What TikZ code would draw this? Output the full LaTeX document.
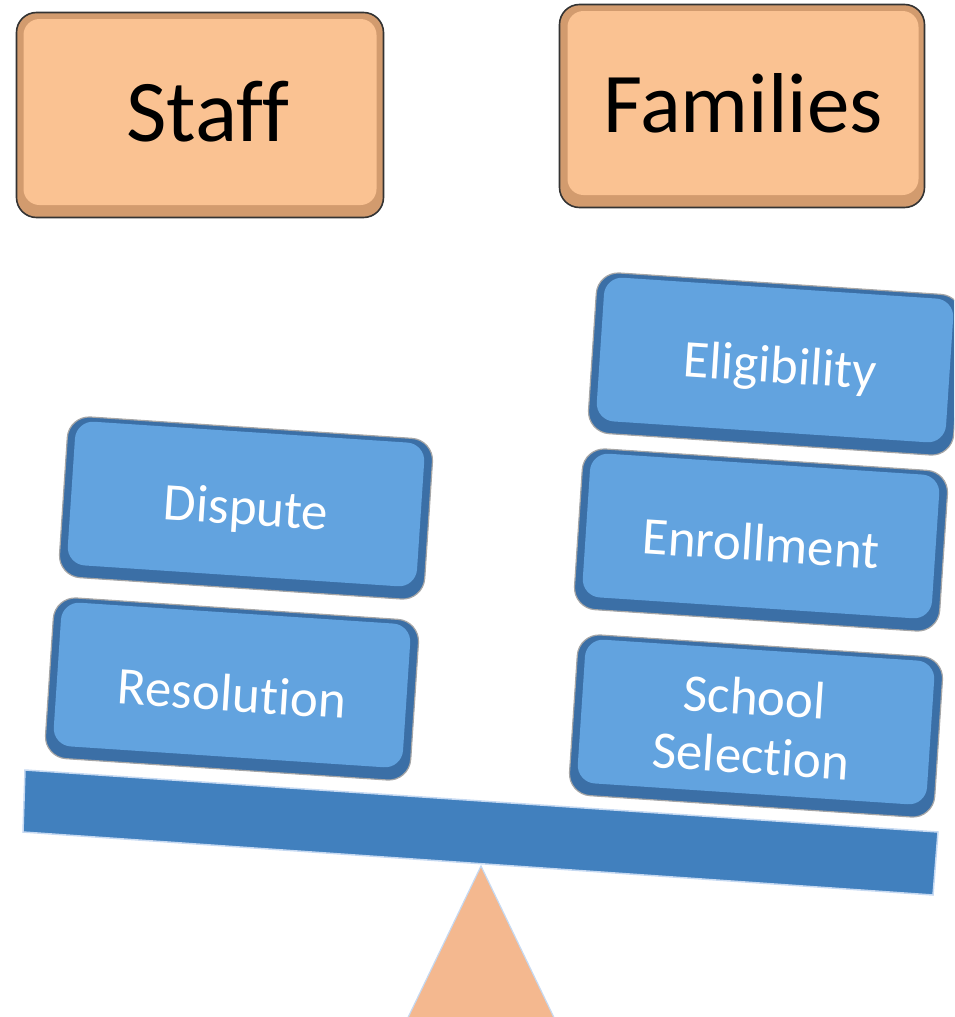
\documentclass[tikz,border=0pt]{standalone}
\usepackage{fontspec}
\setmainfont[Ligatures=NoCommon]{Carlito}
\definecolor{peach}{HTML}{FAC292}
\definecolor{peachedge}{HTML}{D29B6E}
\definecolor{bluemid}{HTML}{62A3DF}
\definecolor{bluedark}{HTML}{3B6FA6}
\definecolor{beamblue}{HTML}{4180BE}
\definecolor{paleedge}{HTML}{C6D9F1}
\definecolor{tripeach}{HTML}{F4B88F}
\tikzset{
  peachbase/.style={rounded corners=20pt, minimum width=367pt, minimum height=205pt,
    fill=peachedge, draw=black!80, line width=1.6pt, inner sep=0pt},
  peachtop/.style={rounded corners=16pt, minimum width=353pt, minimum height=186pt,
    fill=peach, inner sep=0pt, font=\fontsize{88}{96}\selectfont, text=black},
  bluebase/.style={rounded corners=22pt, minimum width=366pt, minimum height=161pt,
    fill=bluedark, draw=black!35, line width=1.2pt, rotate=-3.8, inner sep=0pt},
  bluetop/.style={rounded corners=18pt, minimum width=350pt, minimum height=144pt,
    fill=bluemid, rotate=-3.8, inner sep=0pt},
  bluetext/.style={rotate=-3.8, inner sep=0pt, text=white, align=center,
    font=\fontsize{53}{60}\selectfont},
}
\begin{document}
\begin{tikzpicture}[x=1pt,y=-1pt]
\useasboundingbox (0,0) rectangle (954,1017);
\clip (0,0) rectangle (954,1017);
% peach header boxes
\node[peachbase] (staffb) at (200,115) {};
\node[peachtop] (staff) at (200,112) {\hspace*{16pt}Staff};
\node[peachbase, minimum width=365pt, minimum height=203pt] (famb) at (742,106) {};
\node[peachtop, minimum width=351pt, minimum height=184pt, font=\fontsize{85}{92}\selectfont] (families) at (743,103) {Families};
% fulcrum
\fill[tripeach, draw=paleedge, line width=1.2pt] (481,866) -- (560,1030) -- (402,1030) -- cycle;
% beam
\fill[beamblue, draw=paleedge, line width=1.5pt] (25,770) -- (938,832) -- (933,895) -- (23,832) -- cycle;
% blue blocks
\node[bluebase] (disb) at (246,508) {};
\node[bluetop] (disf) at (246,504) {};
\node[bluetext] (dispute) at (246,511) {Dispute};
\node[bluebase] (resb) at (232,689) {};
\node[bluetop] (resf) at (232,685) {};
\node[bluetext] (resolution) at (232,693) {Resolution};
\node[bluebase] (elib) at (775,364) {};
\node[bluetop] (elif) at (775,360) {};
\node[bluetext] (eligibility) at (780,369) {Eligibility};
\node[bluebase] (enrb) at (761,540) {};
\node[bluetop] (enrf) at (761,536) {};
\node[bluetext] (enrollment) at (761,543) {Enrollment};
\node[bluebase] (schb) at (756,726) {};
\node[bluetop] (schf) at (756,722) {};
\node[bluetext] (school) at (753,726) {School\\[-1pt]Selection};
\end{tikzpicture}
\end{document}
